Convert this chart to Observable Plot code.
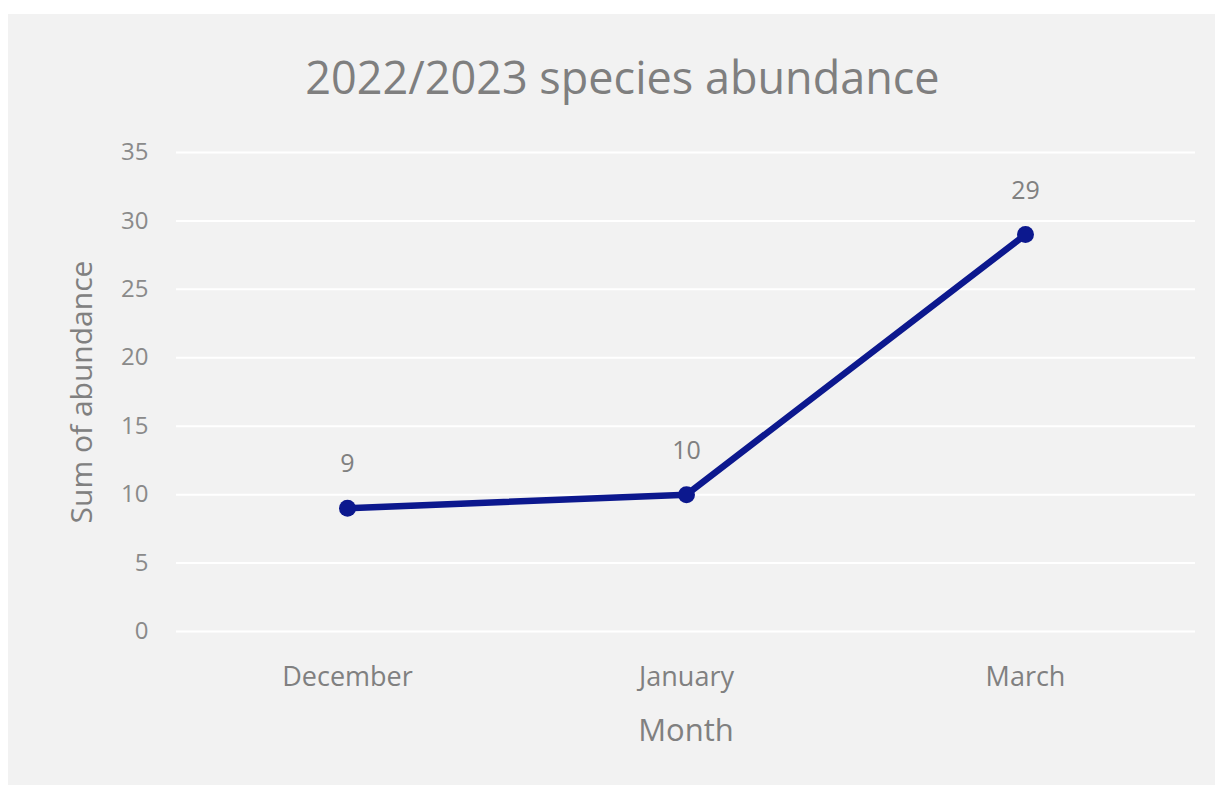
<!DOCTYPE html>
<html>
<head>
<meta charset="utf-8">
<script src="https://cdn.jsdelivr.net/npm/d3@7"></script>
<script src="https://cdn.jsdelivr.net/npm/@observablehq/plot@0.6"></script>
<style>
  html, body { margin: 0; padding: 0; background: #ffffff; }
  body { width: 1222px; height: 790px; position: relative; overflow: hidden; font-family: "Open Sans", sans-serif; }
  #panel { position: absolute; left: 8px; top: 14px; width: 1207px; height: 771px; background: #f2f2f2; }
  #title { position: absolute; left: 0; top: 40px; width: 1229px; text-align: center; font-size: 45px; line-height: 1; color: #7f7f7f; }
  #chart { position: absolute; left: 0; top: 106px; }
</style>
</head>
<body>
<div id="panel">
  <div id="title">2022/2023 species abundance</div>
  <div id="chart"></div>
</div>
<script>
const months = ["December", "January", "March"];
const abundance = [9, 10, 29];
const yTicks = [0, 5, 10, 15, 20, 25, 30, 35];
const yLabel = "Sum of abundance";
const xLabel = "Month";

const data = months.map((m, i) => ({month: m, value: abundance[i]}));

const chart = Plot.plot({
  width: 1207,
  height: 665,
  marginLeft: 168,
  marginRight: 20,
  marginTop: 32,
  marginBottom: 154,
  style: {background: "transparent", fontFamily: "Open Sans, sans-serif", color: "#808080"},
  x: {type: "point", domain: months, padding: 0.5, label: null},
  y: {domain: [0, 35], label: null},
  marks: [
    Plot.ruleY(yTicks, {stroke: "#ffffff", strokeWidth: 2}),
    Plot.axisY({ticks: yTicks, tickSize: 0, tickPadding: 28, fontSize: 24, fill: "#8a8a8a", label: null}),
    Plot.axisX({tickSize: 0, tickPadding: 35, fontSize: 27, fill: "#808080", label: null}),
    Plot.text([yLabel], {frameAnchor: "left", dx: -94, rotate: -90, textAnchor: "middle", lineAnchor: "middle", text: d => d, fontSize: 30, fill: "#808080"}),
    Plot.text([xLabel], {frameAnchor: "bottom", dy: 100, textAnchor: "middle", lineAnchor: "middle", text: d => d, fontSize: 31, fill: "#808080"}),
    Plot.line(data, {x: "month", y: "value", stroke: "#0c188e", strokeWidth: 6.5, strokeLinejoin: "round", strokeLinecap: "round"}),
    Plot.dot(data, {x: "month", y: "value", r: 8.5, fill: "#0c188e", stroke: "none"}),
    Plot.text(data, {x: "month", y: "value", text: d => String(d.value), dy: -44, fontSize: 25, fill: "#808080"})
  ]
});
document.getElementById("chart").appendChild(chart);
</script>
</body>
</html>
